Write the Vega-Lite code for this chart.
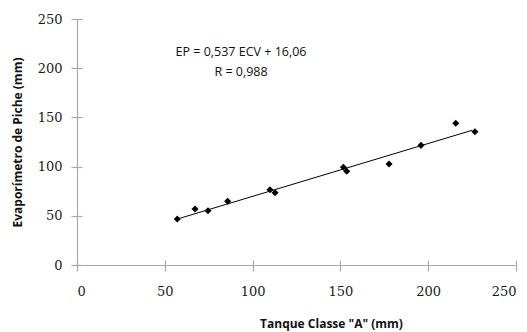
{
  "$schema": "https://vega.github.io/schema/vega-lite/v6.json",
  "autosize": {"type": "none"},
  "padding": {"left": 77, "top": 19, "right": 11, "bottom": 67},
  "width": 439,
  "height": 246,
  "background": "white",
  "config": {"view": {"stroke": null}},
  "datasets": {
    "points": [
      {"tanque": 57.1, "piche": 46.7},
      {"tanque": 67.2, "piche": 56.9},
      {"tanque": 74.6, "piche": 55.2},
      {"tanque": 85.8, "piche": 64.7},
      {"tanque": 109.9, "piche": 76.5},
      {"tanque": 112.8, "piche": 73.5},
      {"tanque": 151.7, "piche": 99.3},
      {"tanque": 153.6, "piche": 95.2},
      {"tanque": 177.7, "piche": 102.6},
      {"tanque": 195.9, "piche": 121.6},
      {"tanque": 215.7, "piche": 144.0},
      {"tanque": 226.6, "piche": 135.5}
    ],
    "fit": [
      {"tanque": 57.1, "piche": 46.7},
      {"tanque": 225.0, "piche": 136.9}
    ],
    "notes": [
      {"tanque": 93.4, "piche": 216.5, "label": "EP = 0,537 ECV + 16,06"},
      {"tanque": 93.4, "piche": 196.0, "label": "R = 0,988"}
    ]
  },
  "resolve": {"axis": {"x": "independent", "y": "independent"}},
  "layer": [
    {
      "data": {"name": "points"},
      "mark": {"type": "point", "shape": "diamond", "filled": true, "color": "#000000", "size": 50, "opacity": 1},
      "encoding": {
        "x": {"field": "tanque", "type": "quantitative",
          "scale": {"domain": [0, 250], "nice": false},
          "axis": {"orient": "bottom", "values": [0, 50, 100, 150, 200, 250], "grid": false,
            "domainColor": "#a8a8a8", "tickColor": "#a8a8a8", "tickSize": 6, "domainWidth": 1.2, "tickWidth": 1.2,
            "labelFont": "DejaVu Serif", "labelFontSize": 13, "labelColor": "#1a1a1a", "labelPadding": 14,
            "title": "Tanque Classe \"A\" (mm)", "titleFont": "Open Sans", "titleFontSize": 12, "titleFontWeight": "bold",
            "titleColor": "#111111", "titleX": 254, "titleY": 58, "titleBaseline": "middle", "titleAlign": "center"}},
        "y": {"field": "piche", "type": "quantitative",
          "scale": {"domain": [0, 250], "nice": false},
          "axis": {"orient": "left", "values": [0, 50, 100, 150, 200, 250], "grid": false,
            "domainColor": "#a8a8a8", "tickColor": "#a8a8a8", "tickSize": 6, "domainWidth": 1.2, "tickWidth": 1.2,
            "labelFont": "DejaVu Serif", "labelFontSize": 13, "labelColor": "#1a1a1a", "labelPadding": 9,
            "title": "Evaporímetro de Piche (mm)", "titleFont": "Open Sans", "titleFontSize": 12, "titleFontWeight": "bold",
            "titleColor": "#111111", "titleX": -60, "titleY": 123, "titleBaseline": "middle", "titleAlign": "center", "titleAngle": -90}}
      }
    },
    {
      "data": {"name": "fit"},
      "mark": {"type": "line", "color": "#000000", "strokeWidth": 1},
      "encoding": {
        "x": {"field": "tanque", "type": "quantitative", "scale": {"domain": [0, 250], "nice": false},
          "axis": {"orient": "bottom", "values": [0, 50, 100, 150, 200, 250], "grid": false, "labels": false, "domain": false,
            "title": null, "tickColor": "#a8a8a8", "tickSize": -5, "tickWidth": 1.2}},
        "y": {"field": "piche", "type": "quantitative", "scale": {"domain": [0, 250], "nice": false},
          "axis": {"orient": "left", "values": [0, 50, 100, 150, 200, 250], "grid": false, "labels": false, "domain": false,
            "title": null, "tickColor": "#a8a8a8", "tickSize": -5, "tickWidth": 1.2}}
      }
    },
    {
      "data": {"name": "notes"},
      "mark": {"type": "text", "font": "Open Sans", "fontSize": 12.5, "color": "#111111", "align": "center", "baseline": "middle"},
      "encoding": {
        "x": {"field": "tanque", "type": "quantitative", "scale": {"domain": [0, 250], "nice": false}, "axis": null},
        "y": {"field": "piche", "type": "quantitative", "scale": {"domain": [0, 250], "nice": false}, "axis": null},
        "text": {"field": "label"}
      }
    }
  ]
}
